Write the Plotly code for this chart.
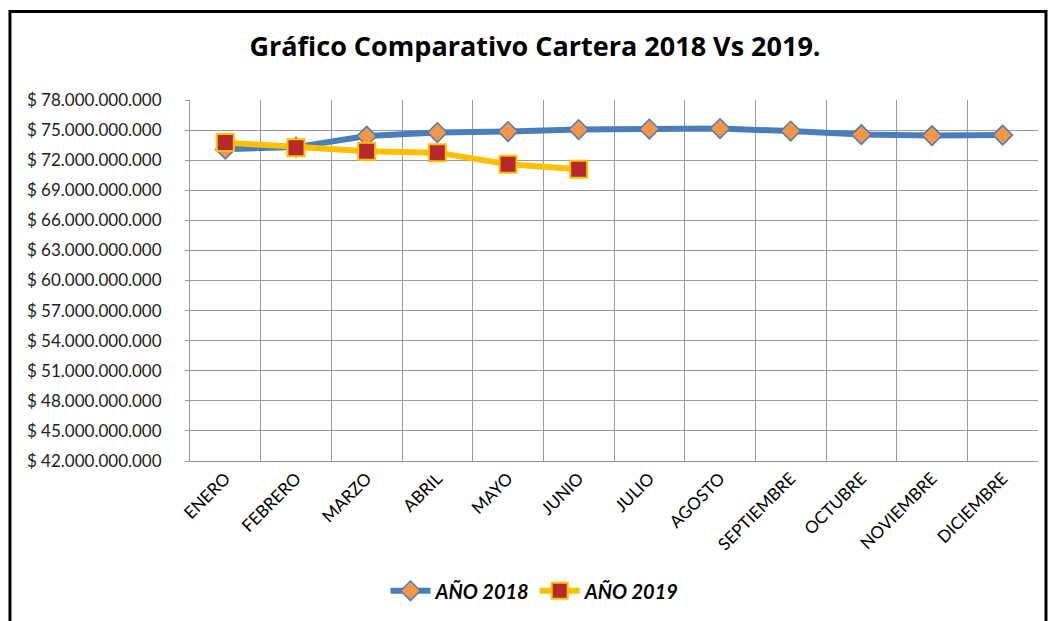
import plotly.graph_objects as go

meses = ["ENERO", "FEBRERO", "MARZO", "ABRIL", "MAYO", "JUNIO", "JULIO",
         "AGOSTO", "SEPTIEMBRE", "OCTUBRE", "NOVIEMBRE", "DICIEMBRE"]

cartera_2018 = [73.1e9, 73.3e9, 74.4e9, 74.75e9, 74.85e9, 75.05e9, 75.1e9,
                75.15e9, 74.9e9, 74.55e9, 74.45e9, 74.5e9]
cartera_2019 = [73.75e9, 73.25e9, 72.9e9, 72.75e9, 71.6e9, 71.1e9]

y_ticks = [42e9 + 3e9 * i for i in range(13)]
y_labels = ["$ " + f"{int(v):,}".replace(",", ".") for v in y_ticks]

fig = go.Figure()

fig.add_trace(go.Scatter(
    x=meses, y=cartera_2018, name="AÑO 2018", mode="lines+markers",
    line=dict(color="#4a7ebb", width=6),
    marker=dict(symbol="diamond", size=15, color="#f79646",
                line=dict(color="#4a7ebb", width=1.5))
))

fig.add_trace(go.Scatter(
    x=meses[:len(cartera_2019)], y=cartera_2019, name="AÑO 2019", mode="lines+markers",
    line=dict(color="#ffc000", width=6),
    marker=dict(symbol="square", size=17, color="#b7282e",
                line=dict(color="#ffc000", width=2))
))

# marco negro del grafico (el borde inferior queda fuera de la imagen)
fig.add_shape(type="rect", xref="paper", yref="paper",
              x0=-0.2123, x1=1.0094, y0=-0.6, y1=(467 - 10) / 367,
              line=dict(color="black", width=3), layer="above")

fig.update_layout(
    width=1049, height=621,
    margin=dict(l=190, r=11, t=100, b=154),
    paper_bgcolor="white", plot_bgcolor="white",
    font=dict(family="Lato", size=15, color="black"),
    title=dict(text="<b>Gráfico Comparativo Cartera 2018 Vs 2019.</b>",
               x=535 / 1049, xanchor="center", y=1 - 47 / 621, yanchor="middle",
               font=dict(family="Open Sans", size=27, color="black")),
    showlegend=True,
    legend=dict(orientation="h", x=(535 - 190) / 848, xanchor="center",
                y=(467 - 599) / 367, yanchor="middle",
                font=dict(size=20, weight="bold", style="italic"),
                itemwidth=40),
)

fig.update_xaxes(
    type="category", tickson="boundaries", tickangle=-45,
    showgrid=True, gridcolor="#9a9a9a", gridwidth=1,
    showline=True, linecolor="#9a9a9a", ticks="", tickfont=dict(size=17),
    range=[-0.5, 11.5]
)
fig.update_yaxes(
    range=[42e9, 78e9], tickvals=y_ticks, ticktext=y_labels,
    showgrid=True, gridcolor="#9a9a9a", gridwidth=1,
    showline=True, linecolor="#9a9a9a", ticks="outside", ticklen=4,
    tickcolor="#9a9a9a", ticklabelstandoff=20,
    tickfont=dict(size=17, color="#222222"), zeroline=False
)

fig.write_html("out.html", config={"displayModeBar": False},
               post_script="document.body.style.margin='0';")
